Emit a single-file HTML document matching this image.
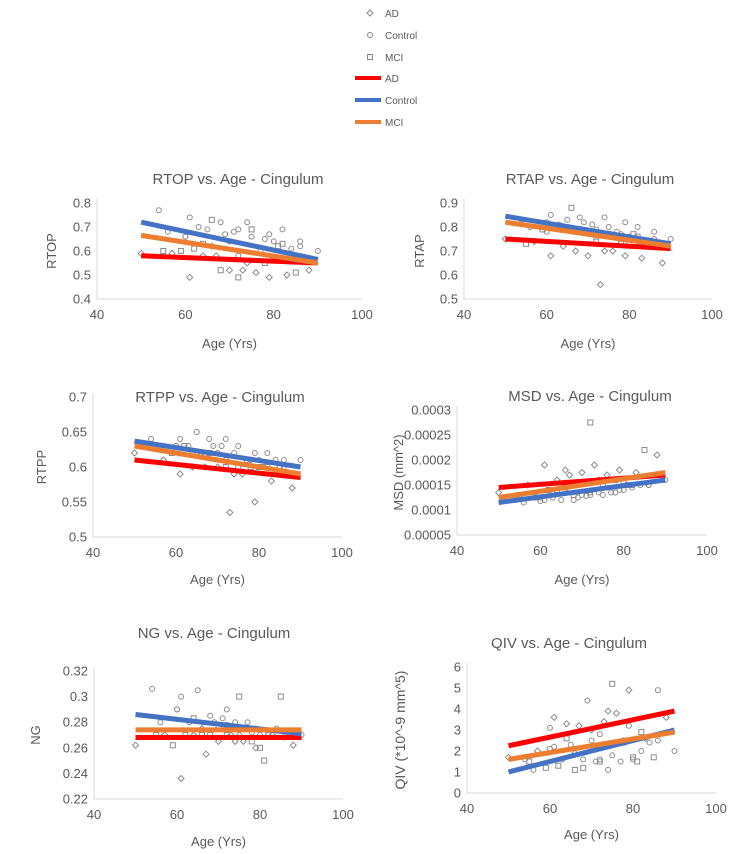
<!DOCTYPE html>
<html><head><meta charset="utf-8"><style>
body{margin:0;background:#fff;font-family:"Liberation Sans",sans-serif;}
svg text{font-family:"Liberation Sans",sans-serif;fill:#595959;}
</style></head><body>
<svg id="c" width="754" height="849" viewBox="0 0 754 849">
<g font-size="10">
<g><path d="M370 10 l3 3 l-3 3 l-3 -3z" fill="none" stroke="#888"/><text x="385" y="17" font-size="10">AD</text></g>
<g><circle cx="370" cy="35" r="2.5" fill="none" stroke="#888"/><text x="385" y="39" font-size="10">Control</text></g>
<g><rect x="367.5" y="54.5" width="5" height="5" fill="none" stroke="#888"/><text x="385" y="61" font-size="10">MCI</text></g>
<g><line x1="355" y1="78" x2="381" y2="78" stroke="#ff0000" stroke-width="4"/><text x="385" y="82" font-size="10">AD</text></g>
<g><line x1="355" y1="100" x2="381" y2="100" stroke="#4472c4" stroke-width="4"/><text x="385" y="104" font-size="10">Control</text></g>
<g><line x1="355" y1="122" x2="381" y2="122" stroke="#ed7d31" stroke-width="4"/><text x="385" y="126" font-size="10">MCI</text></g>
</g>
</svg>
<script>
const ages = [50,54,55,56,57,59,60,61,61,62,63,64,65,66,67,68,68,69,70,71,72,72,73,74,75,75,76,77,78,79,79,80,81,82,83,84,85,86,88,90,60,64,70,74,78,82,86,66,72,80];
const groups = [0,1,2,1,0,2,1,0,1,2,1,0,1,2,0,1,2,1,0,1,2,1,0,1,2,1,0,1,2,1,0,1,2,1,0,1,2,1,0,1,1,2,1,0,1,2,1,0,1,2];
const rtopVals = [0.59,0.77,0.6,0.68,0.59,0.6,0.66,0.49,0.74,0.61,0.7,0.58,0.69,0.73,0.58,0.72,0.52,0.67,0.52,0.68,0.49,0.69,0.52,0.72,0.69,0.66,0.51,0.6,0.55,0.67,0.49,0.64,0.62,0.69,0.5,0.61,0.51,0.64,0.52,0.6,0.66,0.63,0.64,0.55,0.65,0.63,0.62,0.62,0.58,0.56];
const rtapVals = [0.75,0.83,0.73,0.8,0.74,0.79,0.82,0.68,0.85,0.8,0.81,0.72,0.83,0.88,0.7,0.84,0.79,0.82,0.68,0.81,0.76,0.79,0.56,0.84,0.77,0.8,0.7,0.78,0.73,0.82,0.68,0.76,0.77,0.8,0.67,0.74,0.73,0.78,0.65,0.75,0.78,0.8,0.78,0.7,0.77,0.76,0.75,0.79,0.74,0.73];
const rtppVals = [0.62,0.64,0.63,0.63,0.61,0.62,0.63,0.59,0.64,0.63,0.63,0.6,0.65,0.62,0.6,0.64,0.62,0.63,0.6,0.63,0.6,0.64,0.535,0.62,0.6,0.63,0.59,0.61,0.6,0.62,0.55,0.61,0.6,0.62,0.58,0.61,0.6,0.61,0.57,0.61,0.63,0.62,0.62,0.59,0.61,0.6,0.6,0.62,0.61,0.6];
const msdVals = [0.000135,0.00012,0.00013,0.000115,0.00015,0.000125,0.000118,0.00019,0.00012,0.00014,0.000125,0.00016,0.00012,0.000145,0.00017,0.00012,0.00013,0.000125,0.000175,0.000128,0.000275,0.00013,0.00019,0.000135,0.00015,0.00013,0.00017,0.000135,0.00016,0.00014,0.00018,0.00014,0.00015,0.000145,0.000175,0.00015,0.00022,0.00015,0.00021,0.00016,0.000125,0.00014,0.00013,0.00016,0.000135,0.00015,0.00015,0.00018,0.000135,0.000155];
const ngVals = [0.262,0.306,0.27,0.28,0.27,0.262,0.29,0.236,0.3,0.27,0.28,0.27,0.305,0.27,0.255,0.285,0.27,0.28,0.265,0.283,0.27,0.29,0.27,0.28,0.3,0.27,0.265,0.28,0.265,0.275,0.26,0.27,0.25,0.27,0.27,0.275,0.3,0.27,0.262,0.27,0.29,0.283,0.276,0.265,0.272,0.27,0.268,0.275,0.278,0.26];
const qivVals = [1.7,1.6,1.5,1.1,2.0,1.2,3.1,3.6,2.2,1.3,1.6,3.3,2.3,1.1,3.2,1.6,1.2,4.4,3.0,1.5,1.5,1.6,3.4,1.1,5.2,1.8,3.8,1.5,2.5,3.2,4.9,1.6,1.5,2.0,2.6,2.4,1.7,4.9,3.6,2.0,2.1,2.6,2.5,3.9,2.4,2.9,2.5,1.9,2.8,1.7];
const trendStartAge = [50,50,50];
const trendEndAge = [90,90,90];
const rtopTrendStart = [0.58,0.72,0.665], rtopTrendEnd = [0.55,0.565,0.55];
const rtapTrendStart = [0.75,0.845,0.82], rtapTrendEnd = [0.71,0.73,0.72];
const rtppTrendStart = [0.61,0.637,0.63], rtppTrendEnd = [0.585,0.60,0.59];
const msdTrendStart = [0.000145,0.000115,0.000125], msdTrendEnd = [0.00017,0.00016,0.000175];
const ngTrendStart = [0.268,0.286,0.274], ngTrendEnd = [0.268,0.271,0.274];
const qivTrendStart = [2.25,1.0,1.6], qivTrendEnd = [3.9,3.0,2.9];
const xTicks = [40,60,80,100];
const rtopTicks = ["0.4","0.5","0.6","0.7","0.8"];
const rtapTicks = ["0.5","0.6","0.7","0.8","0.9"];
const rtppTicks = ["0.5","0.55","0.6","0.65","0.7"];
const msdTicks = ["0.00005","0.0001","0.00015","0.0002","0.00025","0.0003"];
const ngTicks = ["0.22","0.24","0.26","0.28","0.3","0.32"];
const qivTicks = ["0","1","2","3","4","5","6"];
const trendColors = ["#ff0000","#4472c4","#ed7d31"];
const NS = "http://www.w3.org/2000/svg";
const svg = document.getElementById('c');
function mk(tag, attrs, parent){const e=document.createElementNS(NS,tag);for(const k in attrs)e.setAttribute(k,attrs[k]);parent.appendChild(e);return e;}
function drawChart(name,title,ylab,ticks,vals,ts,te,L){
  const g=mk('g',{},svg);
  
  
  const ymin=parseFloat(ticks[0]),ymax=parseFloat(ticks[ticks.length-1]);
  const sx=v=>L.x0+(v-40)/60*(L.x1-L.x0);
  const sy=v=>L.yb-(v-ymin)/(ymax-ymin)*(L.yb-L.yt);
  const t=mk('text',{x:L.tx,y:L.ty,'text-anchor':'middle','font-size':15},g);t.textContent=title;
  
  
  const ax=mk('path',{d:`M${L.x0} ${L.yt-4} V${L.yb} H${L.x1}`,fill:'none',stroke:'#d9d9d9'},g);
  
  
  ticks.forEach(tk=>{const e=mk('text',{x:L.x0-6,y:sy(parseFloat(tk))+4.5,'text-anchor':'end','font-size':13},g);e.textContent=tk;
    
    });
  xTicks.forEach(tk=>{const e=mk('text',{x:sx(tk),y:L.yb+20,'text-anchor':'middle','font-size':13},g);e.textContent=tk;
    
    });
  const xl=mk('text',{x:(L.x0+L.x1)/2,y:L.xly,'text-anchor':'middle','font-size':13},g);xl.textContent='Age (Yrs)';
  
  
  const yc=(L.yt+L.yb)/2;
  const yl=mk('text',{x:L.ylx,y:yc,'text-anchor':'middle','font-size':L.ylfs||13,transform:`rotate(-90 ${L.ylx} ${yc})`},g);yl.textContent=ylab;
  
  
  ages.forEach((a,i)=>{const x=sx(a),y=sy(vals[i]);let m;
    if(groups[i]===0)m=mk('path',{d:`M${x} ${y-3}l3 3l-3 3l-3 -3z`,fill:'none',stroke:'#8c8c8c'},g);
    else if(groups[i]===1)m=mk('circle',{cx:x,cy:y,r:2.5,fill:'none',stroke:'#8c8c8c'},g);
    else m=mk('rect',{x:x-2.5,y:y-2.5,width:5,height:5,fill:'none',stroke:'#8c8c8c'},g);
    
    });
  [0,1,2].forEach(k=>{const l=mk('line',{x1:sx(trendStartAge[k]),y1:sy(ts[k]),x2:sx(trendEndAge[k]),y2:sy(te[k]),stroke:trendColors[k],'stroke-width':5},g);
    
    });
}
drawChart('rtop','RTOP vs. Age - Cingulum','RTOP',rtopTicks,rtopVals,rtopTrendStart,rtopTrendEnd,{x0:97,x1:362,yt:203,yb:299,tx:238,ty:184,xly:348,ylx:56});
drawChart('rtap','RTAP vs. Age - Cingulum','RTAP',rtapTicks,rtapVals,rtapTrendStart,rtapTrendEnd,{x0:464,x1:712,yt:203,yb:299,tx:590,ty:184,xly:348,ylx:424});
drawChart('rtpp','RTPP vs. Age - Cingulum','RTPP',rtppTicks,rtppVals,rtppTrendStart,rtppTrendEnd,{x0:93,x1:342,yt:397,yb:537,tx:220,ty:402,xly:584,ylx:46});
drawChart('msd','MSD vs. Age - Cingulum','MSD  (mm^2)',msdTicks,msdVals,msdTrendStart,msdTrendEnd,{x0:457,x1:707,yt:410,yb:535,tx:590,ty:401,xly:584,ylx:403});
drawChart('ng','NG vs. Age - Cingulum','NG',ngTicks,ngVals,ngTrendStart,ngTrendEnd,{x0:94,x1:343,yt:671,yb:799,tx:214,ty:638,xly:846,ylx:40});
drawChart('qiv','QIV vs. Age - Cingulum','QIV (*10^-9 mm^5)',qivTicks,qivVals,qivTrendStart,qivTrendEnd,{x0:467,x1:716,yt:667,yb:793,tx:569,ty:648,xly:839,ylx:405,ylfs:14});
</script>
</body></html>
